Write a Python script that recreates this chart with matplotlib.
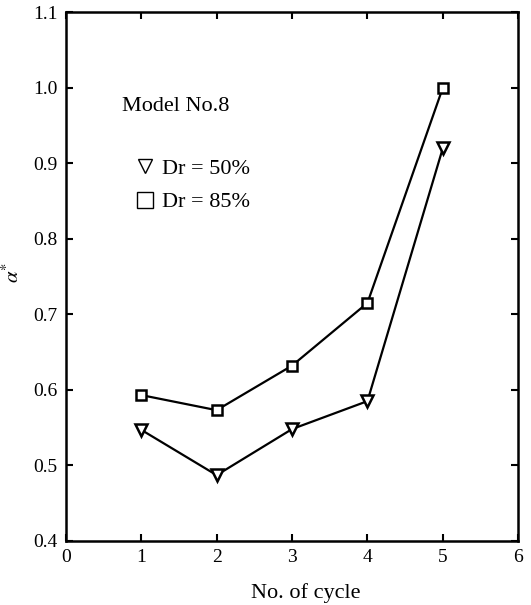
import matplotlib.pyplot as plt
from matplotlib.lines import Line2D

plt.rcParams['font.family'] = ['Liberation Serif', 'DejaVu Serif']
plt.rcParams['mathtext.fontset'] = 'stix'

cycles = [1, 2, 3, 4, 5]
dr50 = [0.547, 0.487, 0.548, 0.585, 0.920]
dr85 = [0.593, 0.573, 0.632, 0.715, 1.000]

fig = plt.figure(figsize=(5.31, 6.05), dpi=100)
ax = fig.add_axes([0.124, 0.106, 0.852, 0.874])

ax.plot(cycles, dr85, color='black', lw=1.6, marker='s', ms=7,
        mfc='white', mec='black', mew=1.8)
ax.plot(cycles, dr50, color='black', lw=1.6, marker='v', ms=8,
        mfc='white', mec='black', mew=1.8)

ax.set_xlim(0, 6)
ax.set_ylim(0.4, 1.1)
ax.set_xticks(range(0, 7))
ax.set_yticks([0.4, 0.5, 0.6, 0.7, 0.8, 0.9, 1.0, 1.1])
ax.set_yticklabels(['0.4', '0.5', '0.6', '0.7', '0.8', '0.9', '1.0', '1.1'])
ax.tick_params(direction='in', top=True, right=True, length=5, width=1.5,
               labelsize=14, pad=6)
for s in ax.spines.values():
    s.set_linewidth(1.8)

ax.set_xlabel('No. of cycle', fontsize=16, va='center')
ax.xaxis.set_label_coords(0.53, -0.098)
ax.set_ylabel(r'$\alpha^{*}$', fontsize=15, rotation=90, va='center', ha='center')
ax.yaxis.set_label_coords(-0.117, 0.508)

ax.text(0.75, 0.975, 'Model No.8', fontsize=16, va='center')

handles = [
    Line2D([], [], ls='none', marker='v', ms=10, mfc='white', mec='black', mew=1.0),
    Line2D([], [], ls='none', marker='s', ms=11, mfc='white', mec='black', mew=1.0),
]
ax.legend(handles, ['Dr = 50%', 'Dr = 85%'], loc='upper left',
          bbox_to_anchor=(0.112, 0.762), frameon=False, fontsize=16,
          handlelength=0.8, handletextpad=0.35, labelspacing=0.6)

fig.savefig('out.png', dpi=100)
